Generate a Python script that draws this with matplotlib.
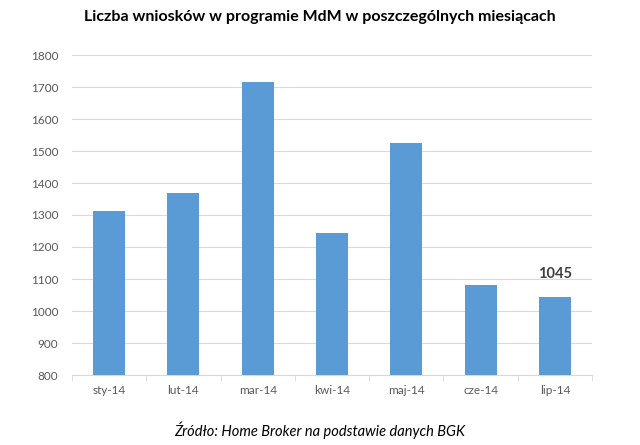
import matplotlib
matplotlib.use("Agg")
import matplotlib.pyplot as plt
import numpy as np

months = ["sty-14", "lut-14", "mar-14", "kwi-14", "maj-14", "cze-14", "lip-14"]
wnioski = [1313, 1370, 1716, 1244, 1525, 1080, 1045]
yticks = [800, 900, 1000, 1100, 1200, 1300, 1400, 1500, 1600, 1700, 1800]

plt.rcParams["font.family"] = ["Lato", "DejaVu Sans"]

fig = plt.figure(figsize=(6.4, 4.45), dpi=100)
ax = fig.add_axes([72 / 640, 1 - 375 / 445, 520 / 640, 320 / 445])

x = np.arange(len(months))
ax.bar(x, wnioski, width=0.43, color="#5B9BD5", zorder=3)
ax.set_ylim(800, 1800)
ax.set_xlim(-0.5, len(months) - 0.5)
ax.set_yticks(yticks)
ax.set_yticklabels([str(v) for v in yticks], color="#595959", fontsize=8.5)
ax.set_xticks(x)
ax.set_xticklabels(months, color="#595959", fontsize=8.5)
ax.set_xticks(np.arange(-0.5, len(months), 1.0), minor=True)
ax.tick_params(axis="x", which="major", length=0, pad=7)
ax.tick_params(axis="x", which="minor", length=4, color="#D9D9D9")
ax.tick_params(axis="y", length=0, pad=10)
ax.grid(axis="y", color="#D9D9D9", linewidth=0.8, zorder=0)
for side in ["top", "right", "left"]:
    ax.spines[side].set_visible(False)
ax.spines["bottom"].set_color("#D9D9D9")

ax.text(x[-1], wnioski[-1] + 50, str(wnioski[-1]), ha="center", va="bottom",
        fontsize=10.5, fontweight="bold", color="#404040")

fig.text(0.5, 1 - 17 / 445, "Liczba wniosków w programie MdM w poszczególnych miesiącach",
         ha="center", va="center", fontsize=11.5, fontweight="bold", color="#000000")
fig.text(0.5, 1 - 430 / 445, "Źródło: Home Broker na podstawie danych BGK",
         ha="center", va="center", fontsize=10.5, style="italic", color="#000000")

fig.savefig("out.png", dpi=100)
